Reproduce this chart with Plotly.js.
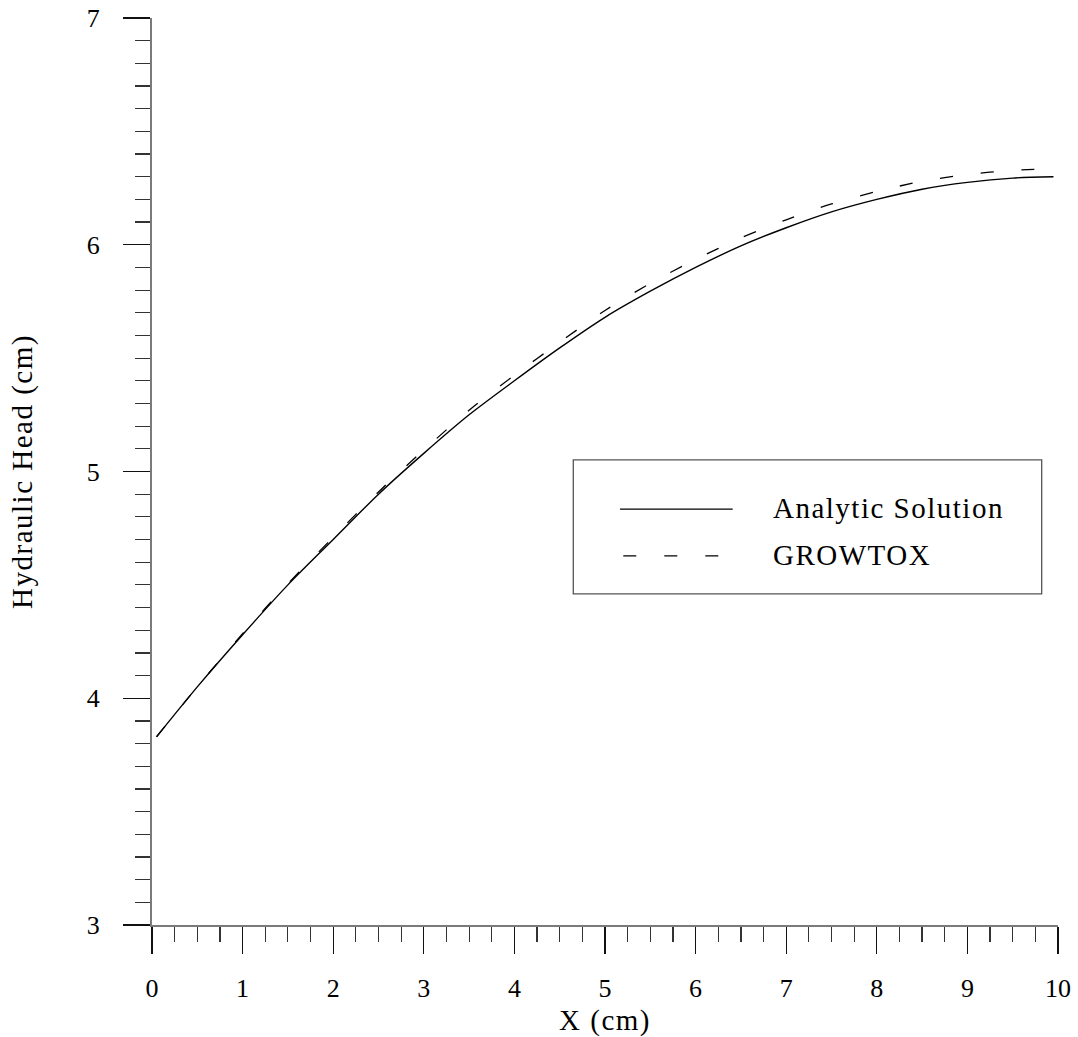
<!DOCTYPE html>
<html>
<head>
<meta charset="utf-8">
<script src="https://cdn.plot.ly/plotly-3.0.1.min.js"></script>
<style>
  html, body { margin: 0; padding: 0; background: #fff; }
  #chart { width: 1078px; height: 1037px; }
  .xtitle, .ytitle, .annotation-text { letter-spacing: 1.5px; }
</style>
</head>
<body>
<div id="chart"></div>
<script>
// Data
const xPositions = [0.05, 0.5, 1, 1.5, 2, 2.5, 3, 3.5, 4, 4.5, 5, 5.5, 6, 6.5, 7, 7.5, 8, 8.5, 9, 9.5, 9.95];
const analyticHead = [3.83, 4.05, 4.28, 4.50, 4.70, 4.90, 5.08, 5.25, 5.40, 5.545, 5.68, 5.795, 5.90, 5.995, 6.075, 6.145, 6.20, 6.245, 6.275, 6.294, 6.30];
const growtoxHead = [3.83, 4.05, 4.285, 4.505, 4.71, 4.91, 5.095, 5.27, 5.425, 5.57, 5.71, 5.83, 5.935, 6.03, 6.11, 6.18, 6.235, 6.28, 6.31, 6.328, 6.335];
const seriesNames = ["Analytic Solution", "GROWTOX"];
const xTickValues = [0, 1, 2, 3, 4, 5, 6, 7, 8, 9, 10];
const yTickValues = [3, 4, 5, 6, 7];

const FONT = "'Liberation Serif', 'Times New Roman', Times, serif";
const DASH = "13px,28px";

const traces = [
  { x: xPositions, y: analyticHead, name: seriesNames[0], mode: "lines",
    line: { color: "#000", width: 1.4, shape: "spline", smoothing: 0.8 }, showlegend: false, hoverinfo: "skip" },
  { x: xPositions, y: growtoxHead, name: seriesNames[1], mode: "lines",
    line: { color: "#000", width: 1.3, dash: DASH, shape: "spline", smoothing: 0.8 }, showlegend: false, hoverinfo: "skip" }
];

const axisCommon = {
  showline: true, linecolor: "#7a7a7a", linewidth: 2,
  showgrid: false, zeroline: false,
  ticks: "outside", ticklen: 27, tickwidth: 1.3, tickcolor: "#111",
  tickfont: { family: FONT, size: 26, color: "#000" },
  tickmode: "array", fixedrange: true
};

const layout = {
  width: 1078, height: 1037,
  margin: { l: 151.7, r: 19.7, t: 18.3, b: 112 },
  paper_bgcolor: "#fff", plot_bgcolor: "#fff",
  font: { family: FONT, color: "#000" },
  showlegend: false,
  xaxis: Object.assign({}, axisCommon, {
    range: [0, 10], tickvals: xTickValues, ticktext: xTickValues.map(String),
    ticklabelstandoff: 12,
    minor: { dtick: 0.25, tick0: 0, ticks: "outside", ticklen: 15, tickwidth: 1.2, tickcolor: "#333" },
    title: { text: "X (cm)", font: { family: FONT, size: 29, color: "#000" }, standoff: 14 }
  }),
  yaxis: Object.assign({}, axisCommon, {
    range: [3, 7], tickvals: yTickValues, ticktext: yTickValues.map(String),
    ticklabelstandoff: 18,
    minor: { dtick: 0.1, tick0: 3, ticks: "outside", ticklen: 15, tickwidth: 1.2, tickcolor: "#333" },
    title: { text: "Hydraulic Head (cm)", font: { family: FONT, size: 29, color: "#000" }, standoff: 46 }
  }),
  shapes: [
    { type: "rect", xref: "paper", yref: "paper", x0: 0.4650, x1: 0.9820, y0: 0.3651, y1: 0.5128,
      line: { color: "#555", width: 1.3 }, fillcolor: "rgba(0,0,0,0)" },
    { type: "line", xref: "paper", yref: "paper", x0: 0.5165, x1: 0.6409, y0: 0.4585, y1: 0.4585,
      line: { color: "#000", width: 1.3 } },
    { type: "line", xref: "paper", yref: "paper", x0: 0.5202, x1: 0.6313, y0: 0.4070, y1: 0.4070,
      line: { color: "#000", width: 1.3, dash: DASH } }
  ],
  annotations: [
    { xref: "paper", yref: "paper", x: 0.6828, y: 0.4599, xanchor: "left", yanchor: "middle",
      text: seriesNames[0], showarrow: false, font: { family: FONT, size: 29, color: "#000" } },
    { xref: "paper", yref: "paper", x: 0.6828, y: 0.4081, xanchor: "left", yanchor: "middle",
      text: seriesNames[1], showarrow: false, font: { family: FONT, size: 29, color: "#000" } }
  ]
};

Plotly.newPlot("chart", traces, layout, { staticPlot: true, displayModeBar: false });
</script>
</body>
</html>
